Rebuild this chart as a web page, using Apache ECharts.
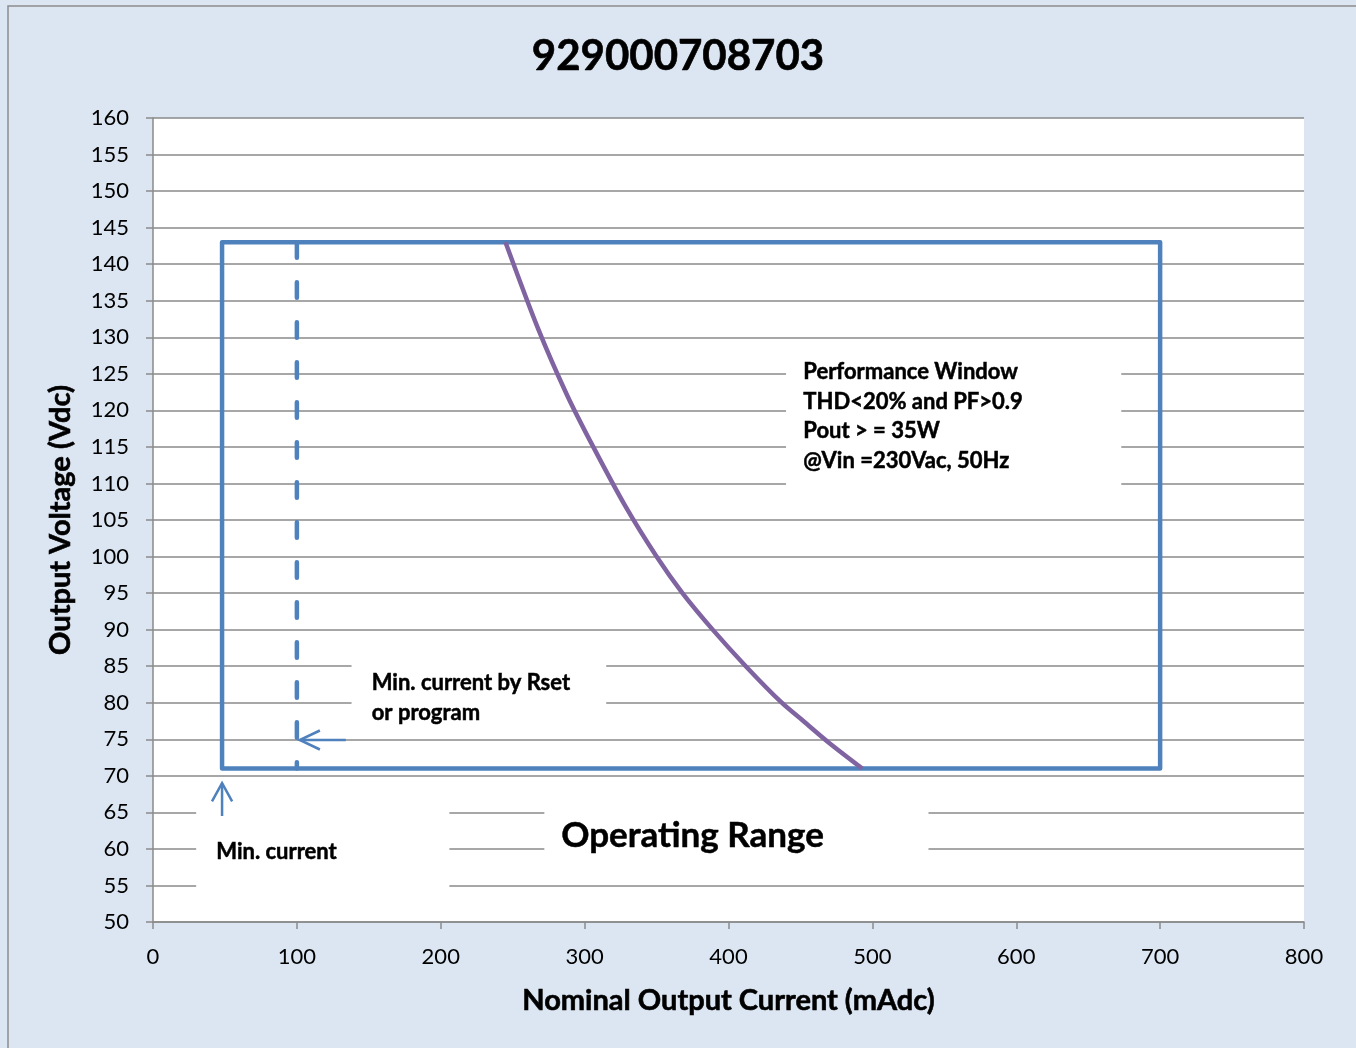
<!DOCTYPE html>
<html><head><meta charset="utf-8">
<script src="https://cdn.jsdelivr.net/npm/echarts@6/dist/echarts.min.js"></script>
<style>html,body{margin:0;padding:0;background:#dce6f2}#c{width:1356px;height:1048px}</style>
</head><body><div id="c"></div>
<script>
const chartTitle = '929000708703';
const xAxisName = 'Nominal Output Current (mAdc)';
const yAxisName = 'Output Voltage (Vdc)';
const xRange = [0, 800, 100];
const yRange = [50, 160, 5];

// operating window rectangle (mA, V)
const windowRect = [[48, 71], [48, 143], [700, 143], [700, 71], [48, 71]];
// min current by Rset (dashed), drawn top to bottom
const rsetLine = [[100, 143], [100, 71]];
// constant power curve
const powerCurve = [[245, 143], [268, 131], [288, 122], [306, 115], [328, 107], [350, 100],
  [368, 95], [389, 90], [412, 85], [437, 80], [452, 77.5], [470, 74.5], [493, 71]];
// arrows
const upArrowShaft = [[48, 64.5], [48, 69]];
const upArrowHead = [[41, 66.5], [48, 69], [55, 66.5]];
const leftArrowShaft = [[134, 74.9], [102, 74.9]];
const leftArrowHead = [[116, 76.2], [102, 74.9], [116, 73.6]];

// white text boxes [x1,y1,x2,y2]
const textBoxes = [[440, 128, 673, 107], [138, 87, 315, 77], [30, 67, 206, 52], [272, 66, 539, 57]];
// annotation texts: [x, y, text]
const perfText = [452, 119.2, 'Performance Window\nTHD<20% and PF>0.9\nPout > = 35W\n@Vin =230Vac, 50Hz'];
const rsetText = [152, 80.65, 'Min. current by Rset\nor program'];
const minText = [44, 59.6, 'Min. current'];
const rangeText = [375, 61.8, 'Operating Range'];

const FONT = 'Lato';
const blue = '#4f81bd', purple = '#8064a2', grid = '#8a8a8a';

function lineSeries(data, color, width, type, z, smooth, cap, join) {
  return {
    type: 'line', data: data, symbol: 'none', z: z, silent: true, smooth: smooth || false,
    lineStyle: { color: color, width: width, type: type || 'solid', cap: cap || 'butt', join: join || 'miter' }
  };
}
const nameStyle = { fontFamily: FONT, fontWeight: 'bold', fontSize: 29, color: '#000', textBorderColor: '#000', textBorderWidth: 0.6 };

const chart = echarts.init(document.getElementById('c'));
chart.setOption({
  backgroundColor: '#dce6f2',
  animation: false,
  title: {
    text: chartTitle, left: 'center', top: 30,
    textStyle: { fontFamily: FONT, fontWeight: 'bold', fontSize: 42, color: '#000', textBorderColor: '#000', textBorderWidth: 0.6 }
  },
  grid: { left: 153, right: 52, top: 118, bottom: 126, backgroundColor: '#fff', show: true, borderWidth: 0 },
  xAxis: {
    type: 'value', min: xRange[0], max: xRange[1], interval: xRange[2],
    name: xAxisName, nameLocation: 'middle', nameGap: 64, nameTextStyle: nameStyle,
    axisLine: { show: true, lineStyle: { color: grid, width: 1.5 } },
    axisTick: { show: true, length: 7, lineStyle: { color: grid, width: 1.5 } },
    axisLabel: { margin: 24, fontFamily: FONT, fontSize: 22, color: '#000' },
    splitLine: { show: false }
  },
  yAxis: {
    type: 'value', min: yRange[0], max: yRange[1], interval: yRange[2],
    name: yAxisName, nameLocation: 'middle', nameGap: 78, nameTextStyle: nameStyle,
    axisLine: { show: true, lineStyle: { color: grid, width: 1.5 } },
    axisTick: { show: true, length: 7, lineStyle: { color: grid, width: 1.5 } },
    axisLabel: { margin: 24, fontFamily: FONT, fontSize: 22, color: '#000' },
    splitLine: { show: true, lineStyle: { color: grid, width: 1.5 } }
  },
  series: [
    {
      type: 'line', data: [], z: 1, silent: true,
      markArea: {
        silent: true, itemStyle: { color: '#fff', opacity: 1 }, label: { show: false },
        data: textBoxes.map(b => [{ coord: [b[0], b[1]] }, { coord: [b[2], b[3]] }])
      }
    },
    lineSeries(windowRect, blue, 4.5, 'solid', 10, false, 'round', 'round'),
    lineSeries(rsetLine, blue, 4.5, [15.5, 24.5], 10, false, 'round'),
    lineSeries(powerCurve, purple, 4.5, 'solid', 11, 0.3),
    lineSeries(upArrowShaft, blue, 2.5, 'solid', 10),
    lineSeries(upArrowHead, blue, 2.5, 'solid', 10),
    lineSeries(leftArrowShaft, blue, 2.5, 'solid', 10),
    lineSeries(leftArrowHead, blue, 2.5, 'solid', 10)
  ]
});

function textEl(t, size, align, lh) {
  const p = chart.convertToPixel({ gridIndex: 0 }, [t[0], t[1]]);
  return {
    type: 'text', x: p[0], y: p[1], z: 100, silent: true,
    style: {
      text: t[2], align: align, verticalAlign: 'middle', lineHeight: lh,
      font: 'bold ' + size + 'px ' + FONT, fill: '#000', stroke: '#000', lineWidth: 0.5
    }
  };
}
chart.setOption({
  graphic: [
    { type: 'rect', shape: { x: 8, y: 6, width: 1400, height: 1100 },
      style: { fill: 'none', stroke: '#8c8c8c', lineWidth: 1.5 }, z: 100, silent: true },
    textEl(perfText, 22, 'left', 29.5),
    textEl(rsetText, 22, 'left', 30),
    textEl(minText, 22, 'left', 30),
    textEl(rangeText, 35, 'center', 40)
  ]
});
</script></body></html>
